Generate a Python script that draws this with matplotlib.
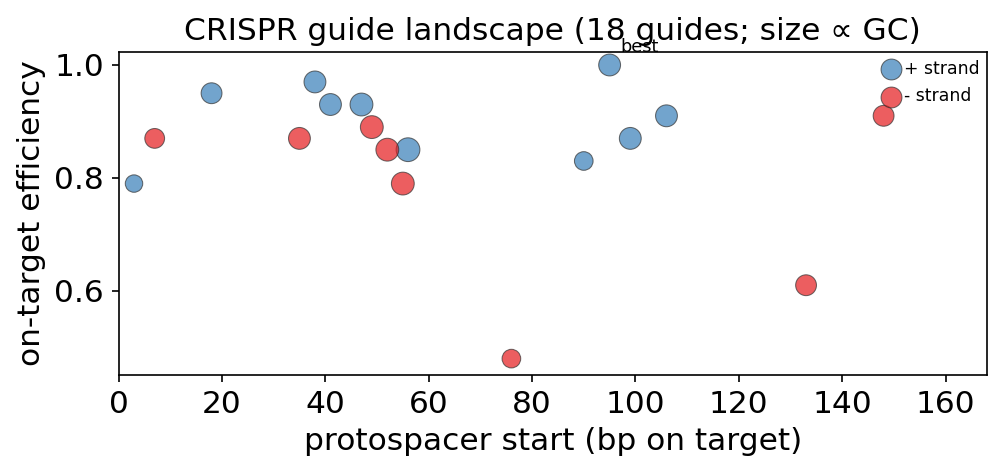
import matplotlib
matplotlib.use("Agg")
import matplotlib.pyplot as plt
import numpy as np

# data
plus_start = [3, 18, 38, 41, 47, 56, 90, 95, 99, 106]
plus_eff = [0.79, 0.95, 0.97, 0.93, 0.93, 0.85, 0.83, 1.00, 0.87, 0.91]
plus_gc = [0.35, 0.50, 0.55, 0.55, 0.60, 0.65, 0.40, 0.55, 0.55, 0.55]

minus_start = [7, 35, 49, 52, 55, 76, 133, 148]
minus_eff = [0.87, 0.87, 0.89, 0.85, 0.79, 0.48, 0.61, 0.91]
minus_gc = [0.45, 0.55, 0.60, 0.60, 0.60, 0.40, 0.50, 0.50]

best_x, best_y = 95, 1.00

fig = plt.figure(figsize=(1004/150, 473/150), dpi=150)
ax = fig.add_axes([118.5/1004, 1-375/473, (987-118.5)/1004, (375-52)/473])

ax.scatter(plus_start, plus_eff, s=np.array(plus_gc)*200, c="#377eb8", alpha=0.7,
           edgecolors="#333333", linewidths=0.5, label="+ strand")
ax.scatter(minus_start, minus_eff, s=np.array(minus_gc)*200, c="#e41a1c", alpha=0.7,
           edgecolors="#333333", linewidths=0.5, label="- strand")

ax.annotate("best", (best_x, best_y), xytext=(5, 6), textcoords="offset points", fontsize=8.5)

allx = plus_start + minus_start
ally = plus_eff + minus_eff
ax.set_xlim(0, max(allx) + 20)
ax.set_ylim(min(ally) - 0.029, max(ally) + 0.023)
ax.set_yticks([0.6, 0.8, 1.0])
ax.tick_params(labelsize=15)
ax.set_xlabel("protospacer start (bp on target)", fontsize=15)
ax.set_ylabel("on-target efficiency", fontsize=15)
ax.set_title("CRISPR guide landscape (18 guides; size \u221d GC)", fontsize=15)
ax.legend(loc="upper right", fontsize=8.3, frameon=False, handlelength=1.0,
          handletextpad=0.2, borderaxespad=0.2, borderpad=0.25, labelspacing=0.55)

fig.savefig("out.png", dpi=150)
